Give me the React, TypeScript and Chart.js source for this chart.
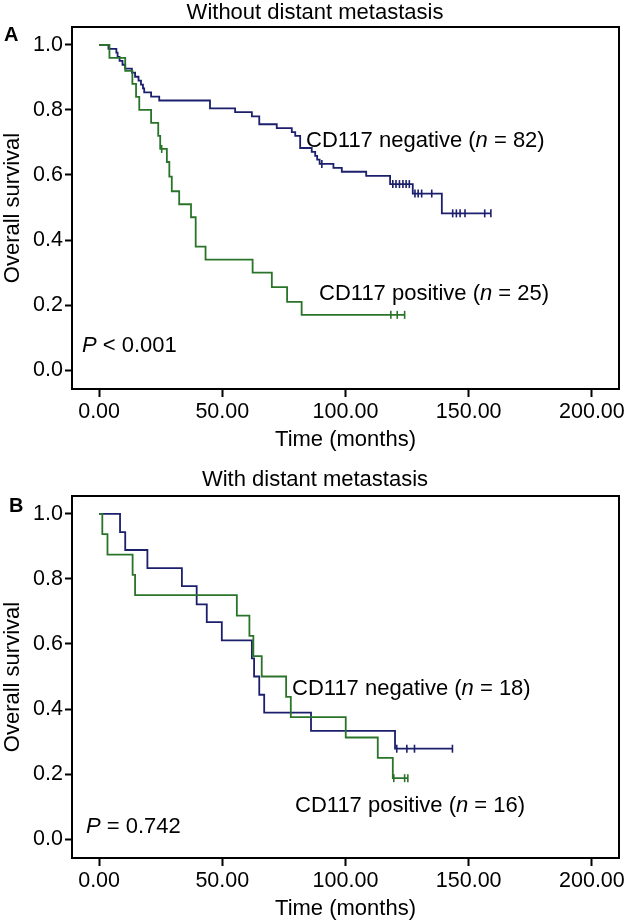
import React, { useEffect, useRef } from "react";
import { Chart, registerables } from "chart.js";

Chart.register(...registerables);

const FONT = "'Liberation Sans', Arial, Helvetica, sans-serif";
const NAVY = "#1b1f6c";
const GREEN = "#2a742a";

const X_TICKS = [0, 50, 100, 150, 200];
const Y_TICKS = [0, 0.2, 0.4, 0.6, 0.8, 1.0];
const X_TITLE = "Time (months)";
const Y_TITLE = "Overall survival";

// Panel A: without distant metastasis
const A_NEG_TIMES = [0, 3.8, 7, 7.5, 8.3, 9.5, 10.6, 13.3, 14.6, 16, 17, 17.8, 18.3, 21.1, 24.4, 45, 55.2, 62, 65, 72.1, 78.2, 79.6, 81.6, 86.3, 87.7, 88.5, 89.5, 95.1, 98.5, 108.4, 118.1, 127.3, 139.1, 159];
const A_NEG_SURV = [1, 0.988, 0.976, 0.963, 0.951, 0.939, 0.927, 0.915, 0.902, 0.89, 0.878, 0.866, 0.854, 0.841, 0.829, 0.805, 0.793, 0.78, 0.756, 0.744, 0.732, 0.72, 0.683, 0.671, 0.659, 0.647, 0.634, 0.622, 0.61, 0.597, 0.572, 0.543, 0.482, 0.482];
const A_NEG_CENSOR_TIMES = [90.4, 119.2, 120.5, 121.9, 123.3, 124.6, 125.9, 128.2, 129.5, 130.9, 135, 143.5, 145, 146.5, 148.5, 156.5, 159];
const A_NEG_CENSOR_SURV = [0.634, 0.572, 0.572, 0.572, 0.572, 0.572, 0.572, 0.543, 0.543, 0.543, 0.543, 0.482, 0.482, 0.482, 0.482, 0.482, 0.482];

const A_POS_TIMES = [0, 4.2, 10.6, 13.5, 15, 16.3, 21.1, 24.0, 24.8, 27.5, 28.5, 29.5, 32.5, 37.3, 39.2, 43.2, 62.3, 70.1, 76.3, 82.2, 124];
const A_POS_SURV = [1, 0.96, 0.92, 0.88, 0.84, 0.8, 0.76, 0.72, 0.68, 0.64, 0.595, 0.55, 0.51, 0.47, 0.38, 0.34, 0.3, 0.255, 0.21, 0.17, 0.17];
const A_POS_CENSOR_TIMES = [25.4, 118.4, 121, 124];
const A_POS_CENSOR_SURV = [0.68, 0.17, 0.17, 0.17];

// Panel B: with distant metastasis
const B_NEG_TIMES = [0, 8.5, 10.6, 19.6, 33.6, 39.6, 43.7, 49.8, 62, 62.9, 65, 67, 86, 120.1, 143.4];
const B_NEG_SURV = [1, 0.944, 0.889, 0.833, 0.778, 0.722, 0.667, 0.611, 0.556, 0.5, 0.444, 0.389, 0.333, 0.278, 0.278];
const B_NEG_CENSOR_TIMES = [120.8, 124.9, 128, 143.4];
const B_NEG_CENSOR_SURV = [0.278, 0.278, 0.278, 0.278];

const B_POS_TIMES = [0, 1.3, 3.4, 13.6, 14.6, 55.9, 61, 62.6, 66, 75.9, 77.8, 100.1, 113.1, 119.2, 125.3];
const B_POS_SURV = [1, 0.9375, 0.875, 0.8125, 0.75, 0.6875, 0.625, 0.5625, 0.5, 0.4375, 0.375, 0.3125, 0.25, 0.1875, 0.1875];
const B_POS_CENSOR_TIMES = [119.6, 124, 125.3];
const B_POS_CENSOR_SURV = [0.1875, 0.1875, 0.1875];

const CANVAS_H = 455;
const AREA_TOP = 27;
const AREA_BOTTOM = 389;
const AREA_LEFT = 72;
const AREA_RIGHT = 619;

const toPts = (xs: number[], ys: number[]) => xs.map((x, i) => ({ x, y: ys[i] }));

type Part = { t: string; i?: boolean };
type TextItem = { parts: Part[]; x: number; y: number };

const annotPlugin = {
  id: "annot",
  afterDraw(chart: any, _args: any, opts: any) {
    const { ctx, chartArea: ca } = chart;
    ctx.save();
    ctx.strokeStyle = "#000";
    ctx.lineWidth = 2;
    ctx.strokeRect(ca.left, ca.top, ca.right - ca.left, ca.bottom - ca.top);
    ctx.fillStyle = "#000";
    ctx.textBaseline = "alphabetic";
    ctx.textAlign = "center";
    ctx.font = `22px ${FONT}`;
    ctx.fillText(opts.title, 315, opts.titleY);
    ctx.textAlign = "left";
    ctx.font = `bold 20px ${FONT}`;
    ctx.fillText(opts.letter, opts.letterX, opts.letterY);
    (opts.texts as TextItem[]).forEach((item) => {
      let x = item.x;
      item.parts.forEach((p) => {
        ctx.font = `${p.i ? "italic " : ""}22px ${FONT}`;
        ctx.fillText(p.t, x, item.y);
        x += ctx.measureText(p.t).width;
      });
    });
    ctx.restore();
  },
};

type Spec = {
  negTimes: number[]; negSurv: number[]; negCT: number[]; negCS: number[];
  posTimes: number[]; posSurv: number[]; posCT: number[]; posCS: number[];
  annot: any;
};

function buildConfig(spec: Spec): any {
  const censor = (data: any, color: string) => ({
    type: "line",
    data,
    showLine: false,
    pointStyle: "line",
    pointRotation: 90,
    pointRadius: 4,
    pointBorderWidth: 1.6,
    pointBorderColor: color,
    pointBackgroundColor: color,
    borderColor: color,
  });
  const line = (data: any, color: string) => ({
    type: "line",
    data,
    stepped: "before",
    borderColor: color,
    borderWidth: 1.8,
    pointRadius: 0,
    fill: false,
  });
  return {
    type: "line",
    data: {
      datasets: [
        censor(toPts(spec.posCT, spec.posCS), GREEN),
        censor(toPts(spec.negCT, spec.negCS), NAVY),
        line(toPts(spec.posTimes, spec.posSurv), GREEN),
        line(toPts(spec.negTimes, spec.negSurv), NAVY),
      ],
    },
    options: {
      animation: false,
      responsive: false,
      devicePixelRatio: 1,
      layout: { padding: { top: AREA_TOP, right: 630 - AREA_RIGHT, left: 0, bottom: 0 } },
      plugins: {
        legend: { display: false },
        tooltip: { enabled: false },
        title: { display: false },
        annot: spec.annot,
      },
      scales: {
        x: {
          type: "linear",
          min: -11,
          max: 211,
          afterBuildTicks: (s: any) => { s.ticks = X_TICKS.map((v) => ({ value: v })); },
          afterFit: (s: any) => { s.height = CANVAS_H - AREA_BOTTOM; },
          ticks: {
            callback: (v: any) => Number(v).toFixed(2),
            font: { family: FONT, size: 21.5 },
            color: "#000",
            padding: 2,
            maxRotation: 0,
            autoSkip: false,
          },
          grid: { display: true, drawOnChartArea: false, drawTicks: true, tickLength: 8, tickWidth: 2, color: "#000" },
          border: { display: false },
          title: { display: true, text: X_TITLE, color: "#000", font: { family: FONT, size: 22 }, padding: { top: 0, bottom: 2 } },
        },
        y: {
          type: "linear",
          min: -0.058,
          max: 1.055,
          afterBuildTicks: (s: any) => { s.ticks = Y_TICKS.map((v) => ({ value: v })); },
          afterFit: (s: any) => { s.width = AREA_LEFT; },
          ticks: {
            callback: (v: any) => Number(v).toFixed(1),
            font: { family: FONT, size: 21.5 },
            color: "#000",
            padding: 2,
            autoSkip: false,
          },
          grid: { display: true, drawOnChartArea: false, drawTicks: true, tickLength: 7, tickWidth: 2, color: "#000" },
          border: { display: false },
          title: { display: true, text: Y_TITLE, color: "#000", font: { family: FONT, size: 22 }, padding: { top: 0, bottom: 0 } },
        },
      },
    },
    plugins: [annotPlugin],
  };
}

const SPEC_A: Spec = {
  negTimes: A_NEG_TIMES, negSurv: A_NEG_SURV, negCT: A_NEG_CENSOR_TIMES, negCS: A_NEG_CENSOR_SURV,
  posTimes: A_POS_TIMES, posSurv: A_POS_SURV, posCT: A_POS_CENSOR_TIMES, posCS: A_POS_CENSOR_SURV,
  annot: {
    title: "Without distant metastasis", titleY: 19,
    letter: "A", letterX: 4, letterY: 41,
    texts: [
      { parts: [{ t: "CD117 negative (" }, { t: "n", i: true }, { t: " = 82)" }], x: 306, y: 146.5 },
      { parts: [{ t: "CD117 positive (" }, { t: "n", i: true }, { t: " = 25)" }], x: 319, y: 300 },
      { parts: [{ t: "P", i: true }, { t: " < 0.001" }], x: 82, y: 351.5 },
    ],
  },
};

const SPEC_B: Spec = {
  negTimes: B_NEG_TIMES, negSurv: B_NEG_SURV, negCT: B_NEG_CENSOR_TIMES, negCS: B_NEG_CENSOR_SURV,
  posTimes: B_POS_TIMES, posSurv: B_POS_SURV, posCT: B_POS_CENSOR_TIMES, posCS: B_POS_CENSOR_SURV,
  annot: {
    title: "With distant metastasis", titleY: 16.5,
    letter: "B", letterX: 9, letterY: 42.5,
    texts: [
      { parts: [{ t: "CD117 negative (" }, { t: "n", i: true }, { t: " = 18)" }], x: 292, y: 226 },
      { parts: [{ t: "CD117 positive (" }, { t: "n", i: true }, { t: " = 16)" }], x: 295, y: 342.5 },
      { parts: [{ t: "P", i: true }, { t: " = 0.742" }], x: 86, y: 364 },
    ],
  },
};

function Panel({ top, spec }: { top: number; spec: Spec }) {
  const ref = useRef<HTMLCanvasElement | null>(null);
  useEffect(() => {
    if (!ref.current) return;
    const chart = new Chart(ref.current, buildConfig(spec));
    return () => chart.destroy();
  }, [spec]);
  return (
    <canvas
      ref={ref}
      width={630}
      height={CANVAS_H}
      style={{ position: "absolute", left: 0, top, width: 630, height: CANVAS_H }}
    />
  );
}

export default function App() {
  return (
    <div style={{ position: "absolute", left: 0, top: 0, width: 630, height: 920, overflow: "hidden", background: "#fff" }}>
      <Panel top={0} spec={SPEC_A} />
      <Panel top={469} spec={SPEC_B} />
    </div>
  );
}
